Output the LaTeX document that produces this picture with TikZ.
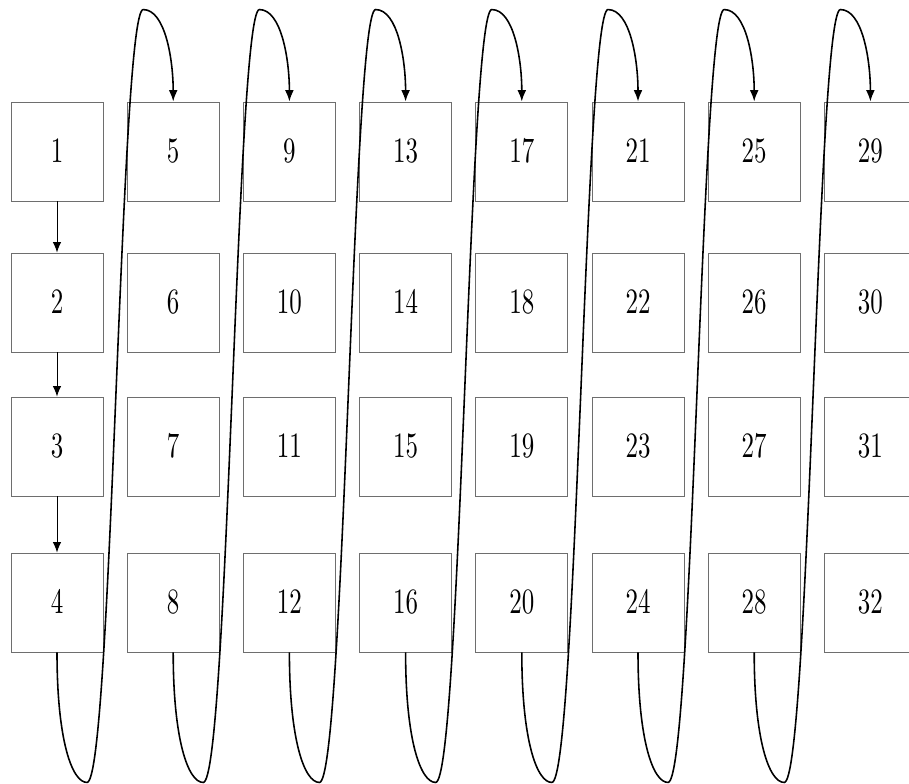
\documentclass[tikz,border=0pt]{standalone}
\usepackage{tikz}
\usepackage{graphicx}
\usepackage{xcolor}
\usetikzlibrary{arrows.meta,calc}
\definecolor{boxgray}{RGB}{110,110,110}

\begin{document}
\begin{tikzpicture}[
    cell/.style={draw=boxgray, line width=0.5pt, minimum width=1.84cm, minimum height=1.98cm, inner sep=0pt},
    down/.style={-{Latex[length=6pt,width=4.8pt]}, line width=0.5pt},
    wrap/.style={-{Latex[length=6.5pt,width=5pt]}, line width=0.9pt}
  ]
    \useasboundingbox (0,0) rectangle (18.18,-15.68);

    % the cells, numbered column by column
    \foreach \c in {0,...,7} {
        \foreach \r/\y in {1/-3.03,2/-6.05,3/-8.93,4/-12.05} {
            \pgfmathtruncatemacro{\n}{4*\c+\r}
            \node[cell] (n\n) at ({1.14+2.324*\c},\y) {\scalebox{1.42}[2.03]{$\n$}};
        }
    }

    \draw[down] (n1.south) -- (n2.north);
    \draw[down] (n2.south) -- (n3.north);
    \draw[down] (n3.south) -- (n4.north);

    % from the bottom of one column to the top of the next
    \foreach \c in {1,...,7} {
        \pgfmathtruncatemacro{\from}{4*\c}
        \pgfmathtruncatemacro{\to}{4*\c+1}
        \coordinate (low\c) at ($(n\from.south)+(0.6,-2.6)$);
        \coordinate (high\c) at ($(n\to.north)+(-0.6,1.84)$);
        \draw[wrap] (n\from.south) .. controls +(0,-1.76) and +(-0.3,0) .. (low\c)
            .. controls +(0.5,0) and +(-0.46,0) .. (high\c)
            .. controls +(0.44,0) and +(0,0.84) .. (n\to.north);
    }
\end{tikzpicture}
\end{document}
